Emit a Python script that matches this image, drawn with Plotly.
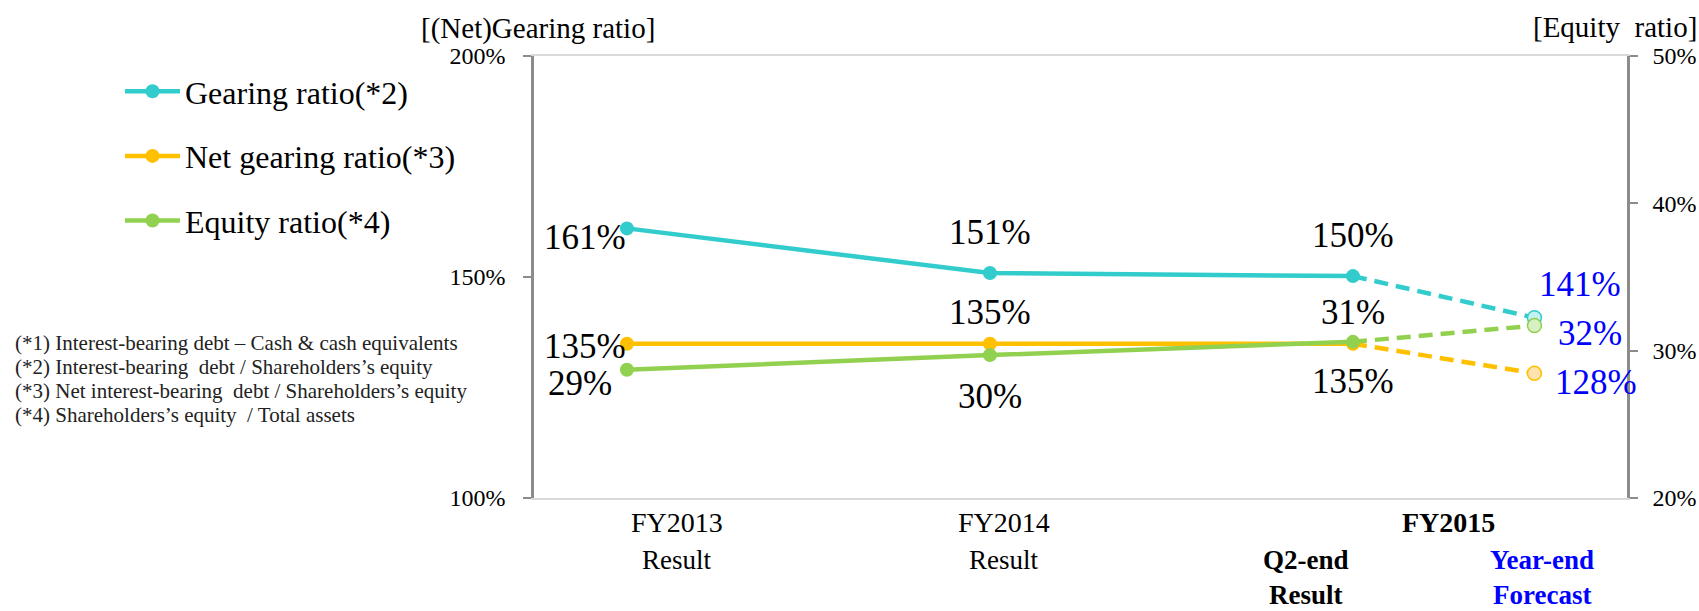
import plotly.graph_objects as go

# ---- data ----
periods = ["FY2013 Result", "FY2014 Result", "FY2015 Q2-end Result", "FY2015 Year-end Forecast"]
period_pos = [0, 1, 2, 2.5]
gearing = [161.0, 150.9, 150.2, 140.8]
net_gearing = [134.9, 134.9, 134.9, 128.2]
equity = [28.7, 29.7, 30.6, 31.7]

series_names = ["Gearing ratio(*2)", "Net gearing ratio(*3)", "Equity ratio(*4)"]

row1_labels = ["FY2013", "FY2014", "FY2015"]
row1_pos = [0, 1, 2.25]
row2_labels = ["Result", "Result", "Q2-end", "Year-end"]
row3_labels = ["", "", "Result", "Forecast"]

left_ticks = [100, 150, 200]
right_ticks = [20, 30, 40, 50]

footnotes = [
    "(*1) Interest-bearing debt \u2013 Cash &amp; cash equivalents",
    "(*2) Interest-bearing  debt / Shareholders\u2019s equity",
    "(*3) Net interest-bearing  debt / Shareholders\u2019s equity",
    "(*4) Shareholders\u2019s equity  / Total assets",
]

# ---- style ----
FONT = "Liberation Serif"
colors = ["#33CCCC", "#FFC000", "#92D050"]
light = ["#C4F0F0", "#FFE2AE", "#D6F0C2"]
BLUE = "#0000FF"
W, H = 1699, 611
L, R, T, B = 534, 1627, 56, 498  # plot area in px


def px_x(px):
    return (px - L) / (R - L)


def px_y(py):
    return (B - py) / (B - T)


fig = go.Figure()

series = [(gearing, "y"), (net_gearing, "y"), (equity, "y2")]

# dashed forecast segments
for i, (vals, ax) in enumerate(series):
    fig.add_trace(go.Scatter(
        x=period_pos[2:4], y=vals[2:4], mode="lines", yaxis=ax,
        line=dict(color=colors[i], width=4.5, dash="14px,8px"),
        showlegend=False, hoverinfo="skip"))

# solid result lines
for i, (vals, ax) in enumerate(series):
    fig.add_trace(go.Scatter(
        x=period_pos[0:3], y=vals[0:3], mode="lines+markers", yaxis=ax,
        name=series_names[i], legendgroup=f"g{i}",
        line=dict(color=colors[i], width=4.5),
        marker=dict(color=colors[i], size=14)))

# forecast markers
for i, (vals, ax) in enumerate(series):
    fig.add_trace(go.Scatter(
        x=period_pos[3:4], y=vals[3:4], mode="markers", yaxis=ax,
        marker=dict(color=light[i], size=14, line=dict(color=colors[i], width=1.5)),
        showlegend=False, hoverinfo="skip"))

# data labels
label_offsets = [
    [(-42, -9), (0, 41), (0, 41), (46, 33)],
    [(-42, -3), (0, 31), (0, -38), (62, -9)],
    [(-47, -14), (0, -41), (0, 29), (56, -8)],
]
for i, (vals, ax) in enumerate(series):
    for j, v in enumerate(vals):
        dx, dy = label_offsets[i][j]
        fig.add_annotation(
            x=period_pos[j], y=v, xref="x", yref=ax,
            text=f"{round(v)}%", showarrow=False,
            xanchor="center", yanchor="middle",
            xshift=dx, yshift=dy,
            font=dict(family=FONT, size=35, color=BLUE if j == 3 else "black"))

# category labels
row_y = [px_y(522), px_y(560), px_y(595)]
row1_shift = [50, 14, 5]
for lab, x, dx in zip(row1_labels, row1_pos, row1_shift):
    bold = lab == "FY2015"
    fig.add_annotation(x=x, y=row_y[0], xref="x", yref="paper",
                       text=f"<b>{lab}</b>" if bold else lab, showarrow=False,
                       xanchor="center", yanchor="middle",
                       xshift=dx, font=dict(family=FONT, size=28, color="black"))
row_shift = [50, 14, -47, 8]
for j in range(4):
    for lab, yy in ((row2_labels[j], row_y[1]), (row3_labels[j], row_y[2])):
        if not lab:
            continue
        txt = lab if j < 2 else f"<b>{lab}</b>"
        col = BLUE if j == 3 else "black"
        fig.add_annotation(x=period_pos[j], y=yy, xref="x", yref="paper",
                           text=txt, showarrow=False, xshift=row_shift[j],
                           xanchor="center", yanchor="middle",
                           font=dict(family=FONT, size=27, color=col))

# axis titles
fig.add_annotation(x=px_x(538), y=px_y(28), xref="paper", yref="paper",
                   text="[(Net)Gearing ratio]", showarrow=False,
                   xanchor="center", yanchor="middle",
                   font=dict(family=FONT, size=29, color="black"))
fig.add_annotation(x=px_x(1615), y=px_y(27), xref="paper", yref="paper",
                   text="[Equity  ratio]", showarrow=False,
                   xanchor="center", yanchor="middle",
                   font=dict(family=FONT, size=29, color="black"))

# footnotes
foot_y = [343, 367, 391, 415]
for t, yy in zip(footnotes, foot_y):
    fig.add_annotation(x=px_x(13), y=px_y(yy), xref="paper", yref="paper",
                       text=t, showarrow=False, xanchor="left", yanchor="middle",
                       font=dict(family=FONT, size=21, color="#222222"))

axis_gray = "#8C8C8C"
fig.update_layout(
    width=W, height=H, autosize=False,
    margin=dict(l=L, r=W - R, t=T, b=H - B, autoexpand=False),
    paper_bgcolor="white", plot_bgcolor="white",
    font=dict(family=FONT, color="black"),
    xaxis=dict(range=[-0.256, 2.755], showticklabels=False, ticks="",
               showgrid=False, zeroline=False, showline=True, mirror=True,
               linecolor="#D9D9D9", linewidth=2, automargin=False),
    yaxis=dict(range=[100, 200], tickvals=left_ticks,
               ticktext=[f"{v}%" for v in left_ticks],
               ticks="outside", ticklen=8, tickcolor=axis_gray, tickwidth=2,
               showline=True, linecolor=axis_gray, linewidth=2.5,
               showgrid=False, zeroline=False, ticklabelstandoff=13,
               automargin=False,
               tickfont=dict(family=FONT, size=24, color="black")),
    yaxis2=dict(range=[20, 50], tickvals=right_ticks,
                ticktext=[f"{v}%" for v in right_ticks],
                overlaying="y", side="right",
                ticks="outside", ticklen=8, tickcolor=axis_gray, tickwidth=2,
                showline=True, linecolor=axis_gray, linewidth=2.5,
                showgrid=False, zeroline=False, ticklabelstandoff=10,
                automargin=False,
                tickfont=dict(family=FONT, size=24, color="black")),
    legend=dict(xref="container", yref="container", x=120 / W, y=1 - 64 / H,
                xanchor="left", yanchor="top", bgcolor="rgba(0,0,0,0)",
                font=dict(family=FONT, size=32, color="black"),
                tracegroupgap=20, itemwidth=55),
    showlegend=True,
)

fig.write_html("out.html", config={"displayModeBar": False},
               post_script="document.body.style.margin='0';")
